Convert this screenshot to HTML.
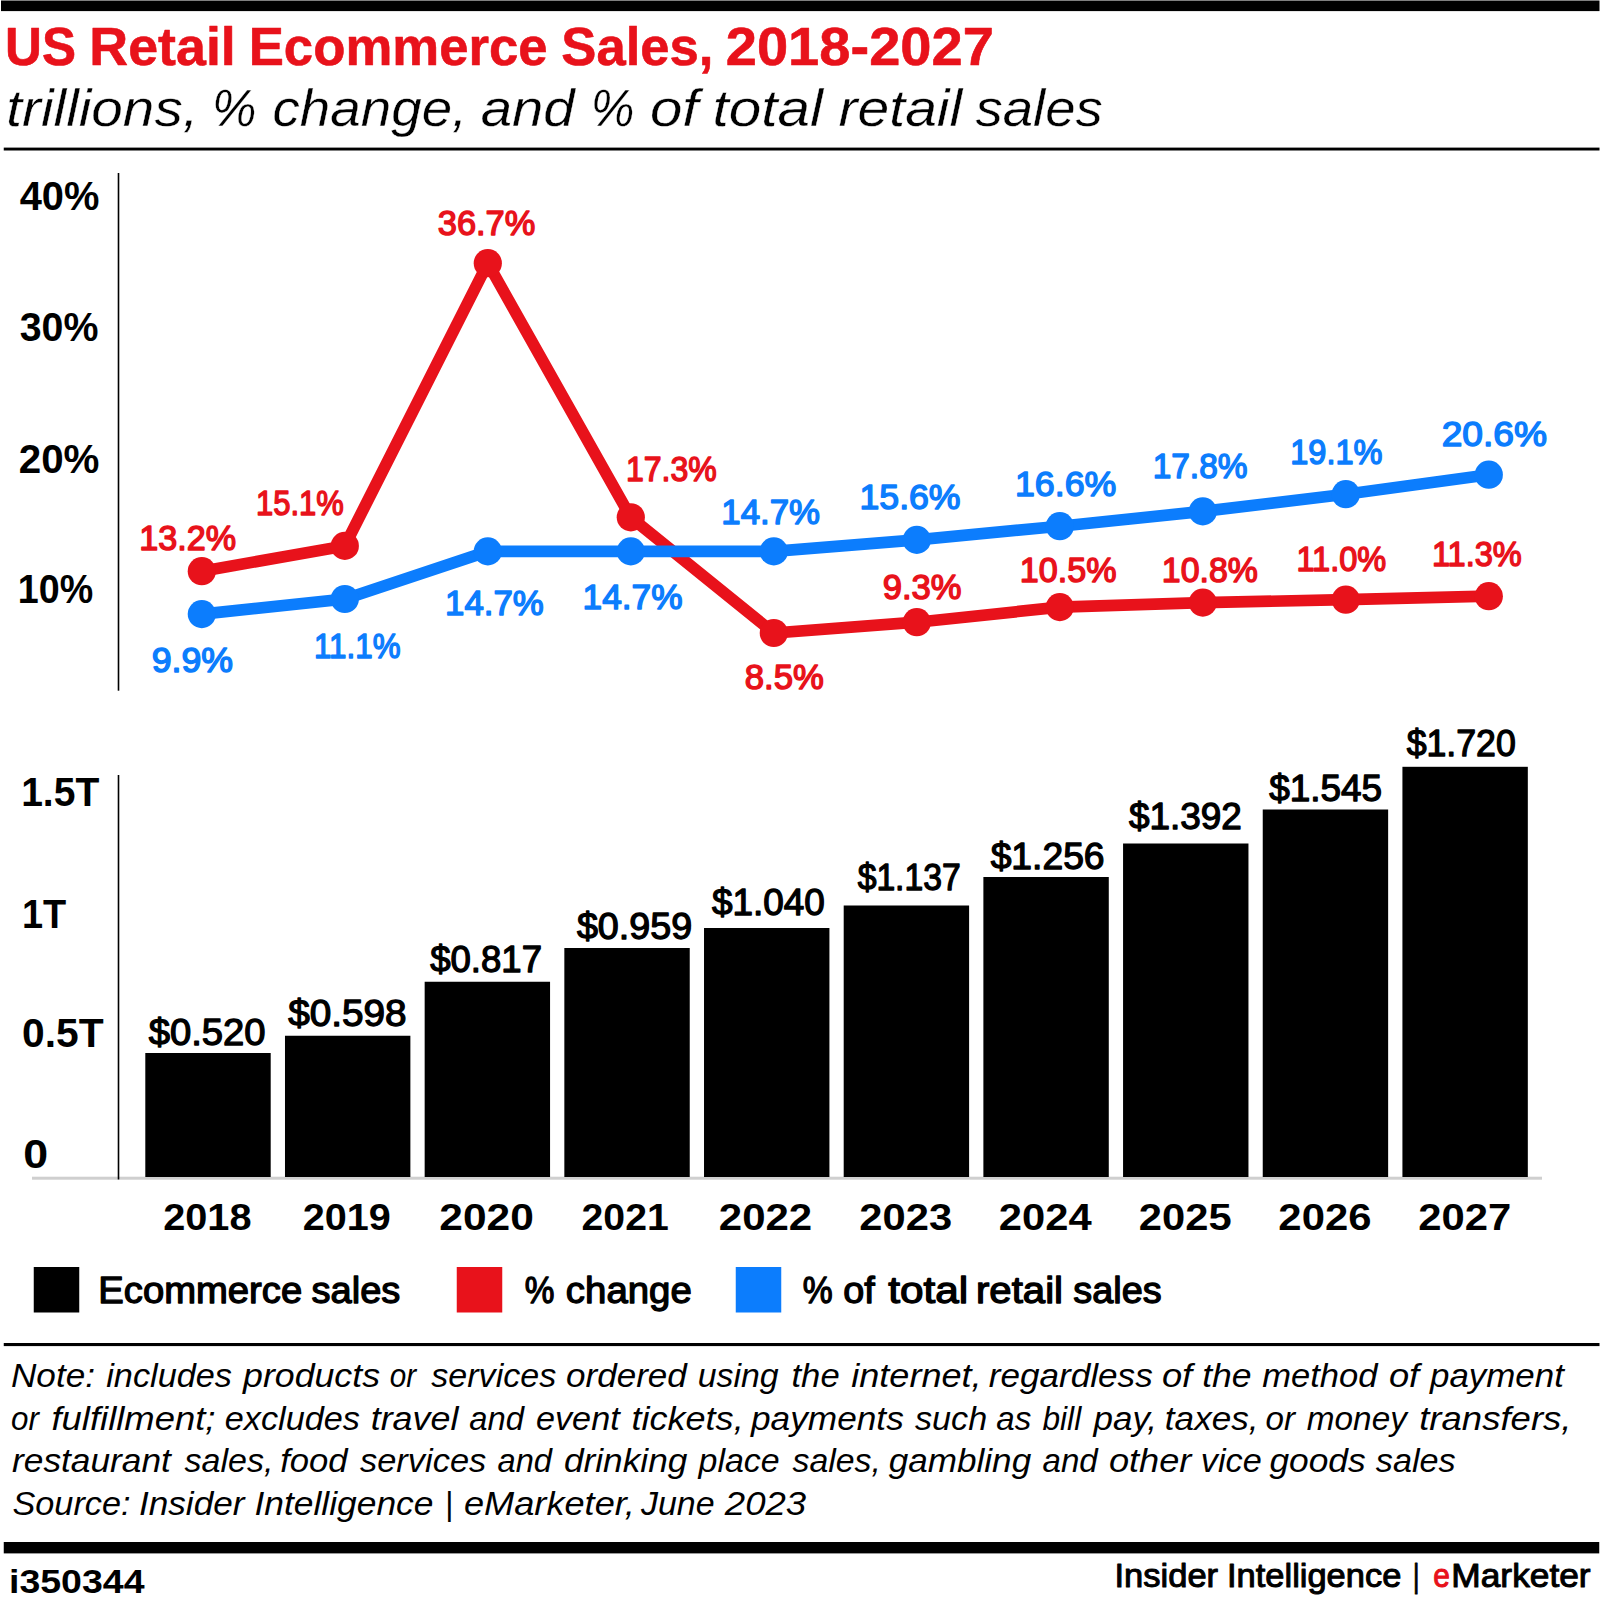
<!DOCTYPE html>
<html lang="en"><head><meta charset="utf-8"><title>US Retail Ecommerce Sales, 2018-2027</title>
<style>
html,body{margin:0;padding:0;background:#fff}
svg{display:block}
text{font-family:"Liberation Sans",sans-serif;white-space:pre}
</style></head><body>
<svg width="1600" height="1604" viewBox="0 0 1600 1604">
<rect width="1600" height="1604" fill="#fff"/>
<rect x="1" y="0.5" width="1598.5" height="10.6" fill="#000"/>
<rect x="3.75" y="147.6" width="1595.75" height="2.9" fill="#000"/>
<rect x="3.75" y="1343" width="1595.75" height="3.1" fill="#000"/>
<rect x="3.75" y="1542" width="1595.5" height="11.4" fill="#000"/>
<rect x="117.7" y="173" width="1.6" height="517.7" fill="#000"/>
<polyline points="201.8,571.2 344.8,545.9 487.8,263.2 630.8,517.3 773.8,633.0 916.8,622.2 1059.8,607.1 1202.8,602.6 1345.8,599.7 1488.8,596.2" fill="none" stroke="#e8121b" stroke-width="11.7" stroke-linejoin="miter" stroke-linecap="round"/>
<circle cx="201.8" cy="571.2" r="14.1" fill="#e8121b"/>
<circle cx="344.8" cy="545.9" r="14.1" fill="#e8121b"/>
<circle cx="487.8" cy="263.2" r="14.1" fill="#e8121b"/>
<circle cx="630.8" cy="517.3" r="14.1" fill="#e8121b"/>
<circle cx="773.8" cy="633.0" r="14.1" fill="#e8121b"/>
<circle cx="916.8" cy="622.2" r="14.1" fill="#e8121b"/>
<circle cx="1059.8" cy="607.1" r="14.1" fill="#e8121b"/>
<circle cx="1202.8" cy="602.6" r="14.1" fill="#e8121b"/>
<circle cx="1345.8" cy="599.7" r="14.1" fill="#e8121b"/>
<circle cx="1488.8" cy="596.2" r="14.1" fill="#e8121b"/>
<polyline points="201.8,614.1 344.8,599.0 487.8,551.4 630.8,551.4 773.8,551.4 916.8,539.9 1059.8,526.2 1202.8,511.4 1345.8,494.2 1488.8,474.7" fill="none" stroke="#0c7dfd" stroke-width="11.7" stroke-linejoin="miter" stroke-linecap="round"/>
<circle cx="201.8" cy="614.1" r="14.1" fill="#0c7dfd"/>
<circle cx="344.8" cy="599.0" r="14.1" fill="#0c7dfd"/>
<circle cx="487.8" cy="551.4" r="14.1" fill="#0c7dfd"/>
<circle cx="630.8" cy="551.4" r="14.1" fill="#0c7dfd"/>
<circle cx="773.8" cy="551.4" r="14.1" fill="#0c7dfd"/>
<circle cx="916.8" cy="539.9" r="14.1" fill="#0c7dfd"/>
<circle cx="1059.8" cy="526.2" r="14.1" fill="#0c7dfd"/>
<circle cx="1202.8" cy="511.4" r="14.1" fill="#0c7dfd"/>
<circle cx="1345.8" cy="494.2" r="14.1" fill="#0c7dfd"/>
<circle cx="1488.8" cy="474.7" r="14.1" fill="#0c7dfd"/>
<rect x="32" y="1176.7" width="1510" height="3" fill="#cfcfcf"/>
<rect x="117.7" y="775" width="1.6" height="404.5" fill="#000"/>
<rect x="145.3" y="1053" width="125.4" height="124" fill="#000"/>
<rect x="284.98" y="1035.75" width="125.4" height="141.25" fill="#000"/>
<rect x="424.66" y="981.75" width="125.4" height="195.25" fill="#000"/>
<rect x="564.34" y="948" width="125.4" height="229" fill="#000"/>
<rect x="704.02" y="928" width="125.4" height="249" fill="#000"/>
<rect x="843.7" y="905.5" width="125.4" height="271.5" fill="#000"/>
<rect x="983.38" y="877" width="125.4" height="300" fill="#000"/>
<rect x="1123.06" y="843.5" width="125.4" height="333.5" fill="#000"/>
<rect x="1262.74" y="809.5" width="125.4" height="367.5" fill="#000"/>
<rect x="1402.42" y="766.8" width="125.4" height="410.20000000000005" fill="#000"/>
<rect x="33.75" y="1267" width="45.5" height="45.5" fill="#000"/>
<rect x="456.75" y="1267" width="45.5" height="45.5" fill="#e8121b"/>
<rect x="735.75" y="1267" width="45.5" height="45.5" fill="#0c7dfd"/>
<text y="65" font-size="54.5" font-weight="bold"><tspan x="4.99" fill="#e8121b" stroke="#e8121b" stroke-width="0.6" stroke-linejoin="round" textLength="70.98" lengthAdjust="spacingAndGlyphs">US</tspan> <tspan x="89.34" fill="#e8121b" stroke="#e8121b" stroke-width="0.6" stroke-linejoin="round" textLength="146.46" lengthAdjust="spacingAndGlyphs">Retail</tspan> <tspan x="248.65" fill="#e8121b" stroke="#e8121b" stroke-width="0.6" stroke-linejoin="round" textLength="299.07" lengthAdjust="spacingAndGlyphs">Ecommerce</tspan> <tspan x="561.33" fill="#e8121b" stroke="#e8121b" stroke-width="0.6" stroke-linejoin="round" textLength="152.15" lengthAdjust="spacingAndGlyphs">Sales,</tspan> <tspan x="725.77" fill="#e8121b" stroke="#e8121b" stroke-width="0.6" stroke-linejoin="round" textLength="268.11" lengthAdjust="spacingAndGlyphs">2018-2027</tspan></text>
<text y="125.8" font-size="51.5" font-style="italic"><tspan x="6.37" fill="#000" stroke="#fff" stroke-width="0.35" stroke-linejoin="round" textLength="192.14" lengthAdjust="spacingAndGlyphs">trillions,</tspan> <tspan x="211.92" fill="#000" stroke="#fff" stroke-width="0.35" stroke-linejoin="round" textLength="44.40" lengthAdjust="spacingAndGlyphs">%</tspan> <tspan x="272.51" fill="#000" stroke="#fff" stroke-width="0.35" stroke-linejoin="round" textLength="194.81" lengthAdjust="spacingAndGlyphs">change,</tspan> <tspan x="480.73" fill="#000" stroke="#fff" stroke-width="0.35" stroke-linejoin="round" textLength="93.96" lengthAdjust="spacingAndGlyphs">and</tspan> <tspan x="590.71" fill="#000" stroke="#fff" stroke-width="0.35" stroke-linejoin="round" textLength="43.67" lengthAdjust="spacingAndGlyphs">%</tspan> <tspan x="649.95" fill="#000" stroke="#fff" stroke-width="0.35" stroke-linejoin="round" textLength="48.44" lengthAdjust="spacingAndGlyphs">of</tspan> <tspan x="712.56" fill="#000" stroke="#fff" stroke-width="0.35" stroke-linejoin="round" textLength="110.35" lengthAdjust="spacingAndGlyphs">total</tspan> <tspan x="838.58" fill="#000" stroke="#fff" stroke-width="0.35" stroke-linejoin="round" textLength="123.62" lengthAdjust="spacingAndGlyphs">retail</tspan> <tspan x="975.62" fill="#000" stroke="#fff" stroke-width="0.35" stroke-linejoin="round" textLength="127.14" lengthAdjust="spacingAndGlyphs">sales</tspan></text>
<text x="19.70" y="210" font-size="40.7" font-weight="bold" fill="#000" textLength="79.72" lengthAdjust="spacingAndGlyphs">40%</text>
<text x="19.70" y="341.2" font-size="40.7" font-weight="bold" fill="#000" textLength="78.72" lengthAdjust="spacingAndGlyphs">30%</text>
<text x="18.71" y="472.8" font-size="40.7" font-weight="bold" fill="#000" textLength="80.72" lengthAdjust="spacingAndGlyphs">20%</text>
<text x="17.85" y="603" font-size="40.7" font-weight="bold" fill="#000" textLength="75.31" lengthAdjust="spacingAndGlyphs">10%</text>
<text x="139.14" y="550.4" font-size="35.8" fill="#e8121b" stroke="#e8121b" stroke-width="1.5" stroke-linejoin="round" textLength="96.90" lengthAdjust="spacingAndGlyphs">13.2%</text>
<text x="256.02" y="514.5" font-size="35.8" fill="#e8121b" stroke="#e8121b" stroke-width="1.5" stroke-linejoin="round" textLength="87.69" lengthAdjust="spacingAndGlyphs">15.1%</text>
<text x="437.79" y="234.7" font-size="35.8" fill="#e8121b" stroke="#e8121b" stroke-width="1.5" stroke-linejoin="round" textLength="97.56" lengthAdjust="spacingAndGlyphs">36.7%</text>
<text x="625.96" y="481.25" font-size="35.8" fill="#e8121b" stroke="#e8121b" stroke-width="1.5" stroke-linejoin="round" textLength="90.78" lengthAdjust="spacingAndGlyphs">17.3%</text>
<text x="744.78" y="689.25" font-size="35.8" fill="#e8121b" stroke="#e8121b" stroke-width="1.5" stroke-linejoin="round" textLength="79.02" lengthAdjust="spacingAndGlyphs">8.5%</text>
<text x="882.78" y="599" font-size="35.8" fill="#e8121b" stroke="#e8121b" stroke-width="1.5" stroke-linejoin="round" textLength="78.77" lengthAdjust="spacingAndGlyphs">9.3%</text>
<text x="1019.84" y="581.75" font-size="35.8" fill="#e8121b" stroke="#e8121b" stroke-width="1.5" stroke-linejoin="round" textLength="96.70" lengthAdjust="spacingAndGlyphs">10.5%</text>
<text x="1161.86" y="581.75" font-size="35.8" fill="#e8121b" stroke="#e8121b" stroke-width="1.5" stroke-linejoin="round" textLength="95.92" lengthAdjust="spacingAndGlyphs">10.8%</text>
<text x="1296.43" y="571.25" font-size="35.8" fill="#e8121b" stroke="#e8121b" stroke-width="1.5" stroke-linejoin="round" textLength="89.82" lengthAdjust="spacingAndGlyphs">11.0%</text>
<text x="1431.93" y="566.25" font-size="35.8" fill="#e8121b" stroke="#e8121b" stroke-width="1.5" stroke-linejoin="round" textLength="89.82" lengthAdjust="spacingAndGlyphs">11.3%</text>
<text x="151.75" y="672.2" font-size="35.8" fill="#0c7dfd" stroke="#0c7dfd" stroke-width="1.5" stroke-linejoin="round" textLength="81.32" lengthAdjust="spacingAndGlyphs">9.9%</text>
<text x="314.00" y="657.5" font-size="35.8" fill="#0c7dfd" stroke="#0c7dfd" stroke-width="1.5" stroke-linejoin="round" textLength="86.48" lengthAdjust="spacingAndGlyphs">11.1%</text>
<text x="445.05" y="615" font-size="35.8" fill="#0c7dfd" stroke="#0c7dfd" stroke-width="1.5" stroke-linejoin="round" textLength="98.75" lengthAdjust="spacingAndGlyphs">14.7%</text>
<text x="582.53" y="608.75" font-size="35.8" fill="#0c7dfd" stroke="#0c7dfd" stroke-width="1.5" stroke-linejoin="round" textLength="100.04" lengthAdjust="spacingAndGlyphs">14.7%</text>
<text x="721.30" y="523.75" font-size="35.8" fill="#0c7dfd" stroke="#0c7dfd" stroke-width="1.5" stroke-linejoin="round" textLength="98.75" lengthAdjust="spacingAndGlyphs">14.7%</text>
<text x="859.51" y="508.5" font-size="35.8" fill="#0c7dfd" stroke="#0c7dfd" stroke-width="1.5" stroke-linejoin="round" textLength="101.07" lengthAdjust="spacingAndGlyphs">15.6%</text>
<text x="1015.00" y="496.25" font-size="35.8" fill="#0c7dfd" stroke="#0c7dfd" stroke-width="1.5" stroke-linejoin="round" textLength="101.32" lengthAdjust="spacingAndGlyphs">16.6%</text>
<text x="1152.63" y="477.5" font-size="35.8" fill="#0c7dfd" stroke="#0c7dfd" stroke-width="1.5" stroke-linejoin="round" textLength="94.90" lengthAdjust="spacingAndGlyphs">17.8%</text>
<text x="1290.18" y="463.75" font-size="35.8" fill="#0c7dfd" stroke="#0c7dfd" stroke-width="1.5" stroke-linejoin="round" textLength="92.32" lengthAdjust="spacingAndGlyphs">19.1%</text>
<text x="1441.71" y="445.75" font-size="35.8" fill="#0c7dfd" stroke="#0c7dfd" stroke-width="1.5" stroke-linejoin="round" textLength="105.40" lengthAdjust="spacingAndGlyphs">20.6%</text>
<text x="148.65" y="1045" font-size="36.8" fill="#000" stroke="#000" stroke-width="1.3" stroke-linejoin="round" textLength="116.93" lengthAdjust="spacingAndGlyphs">$0.520</text>
<text x="288.15" y="1026.25" font-size="36.8" fill="#000" stroke="#000" stroke-width="1.3" stroke-linejoin="round" textLength="118.49" lengthAdjust="spacingAndGlyphs">$0.598</text>
<text x="430.15" y="972" font-size="36.8" fill="#000" stroke="#000" stroke-width="1.3" stroke-linejoin="round" textLength="111.91" lengthAdjust="spacingAndGlyphs">$0.817</text>
<text x="576.90" y="938.75" font-size="36.8" fill="#000" stroke="#000" stroke-width="1.3" stroke-linejoin="round" textLength="115.20" lengthAdjust="spacingAndGlyphs">$0.959</text>
<text x="711.90" y="915" font-size="36.8" fill="#000" stroke="#000" stroke-width="1.3" stroke-linejoin="round" textLength="112.92" lengthAdjust="spacingAndGlyphs">$1.040</text>
<text x="857.65" y="890" font-size="36.8" fill="#000" stroke="#000" stroke-width="1.3" stroke-linejoin="round" textLength="103.04" lengthAdjust="spacingAndGlyphs">$1.137</text>
<text x="990.65" y="869.25" font-size="36.8" fill="#000" stroke="#000" stroke-width="1.3" stroke-linejoin="round" textLength="113.93" lengthAdjust="spacingAndGlyphs">$1.256</text>
<text x="1128.90" y="829.25" font-size="36.8" fill="#000" stroke="#000" stroke-width="1.3" stroke-linejoin="round" textLength="112.92" lengthAdjust="spacingAndGlyphs">$1.392</text>
<text x="1269.15" y="801" font-size="36.8" fill="#000" stroke="#000" stroke-width="1.3" stroke-linejoin="round" textLength="112.92" lengthAdjust="spacingAndGlyphs">$1.545</text>
<text x="1406.65" y="756.4" font-size="36.8" fill="#000" stroke="#000" stroke-width="1.3" stroke-linejoin="round" textLength="109.15" lengthAdjust="spacingAndGlyphs">$1.720</text>
<text x="163.19" y="1230" font-size="37.3" font-weight="bold" fill="#000" textLength="88.36" lengthAdjust="spacingAndGlyphs">2018</text>
<text x="302.69" y="1230" font-size="37.3" font-weight="bold" fill="#000" textLength="88.10" lengthAdjust="spacingAndGlyphs">2019</text>
<text x="439.36" y="1230" font-size="37.3" font-weight="bold" fill="#000" textLength="94.48" lengthAdjust="spacingAndGlyphs">2020</text>
<text x="581.55" y="1230" font-size="37.3" font-weight="bold" fill="#000" textLength="87.23" lengthAdjust="spacingAndGlyphs">2021</text>
<text x="718.87" y="1230" font-size="37.3" font-weight="bold" fill="#000" textLength="93.36" lengthAdjust="spacingAndGlyphs">2022</text>
<text x="859.38" y="1230" font-size="37.3" font-weight="bold" fill="#000" textLength="92.70" lengthAdjust="spacingAndGlyphs">2023</text>
<text x="998.88" y="1230" font-size="37.3" font-weight="bold" fill="#000" textLength="92.83" lengthAdjust="spacingAndGlyphs">2024</text>
<text x="1138.88" y="1230" font-size="37.3" font-weight="bold" fill="#000" textLength="92.70" lengthAdjust="spacingAndGlyphs">2025</text>
<text x="1278.38" y="1230" font-size="37.3" font-weight="bold" fill="#000" textLength="93.05" lengthAdjust="spacingAndGlyphs">2026</text>
<text x="1418.28" y="1230" font-size="37.3" font-weight="bold" fill="#000" textLength="93.05" lengthAdjust="spacingAndGlyphs">2027</text>
<text x="21.18" y="806.25" font-size="40.7" font-weight="bold" fill="#000" textLength="78.08" lengthAdjust="spacingAndGlyphs">1.5T</text>
<text x="21.89" y="927.5" font-size="40.7" font-weight="bold" fill="#000" textLength="44.23" lengthAdjust="spacingAndGlyphs">1T</text>
<text x="22.00" y="1047" font-size="40.7" font-weight="bold" fill="#000" textLength="81.61" lengthAdjust="spacingAndGlyphs">0.5T</text>
<text x="23.15" y="1167.5" font-size="40.7" font-weight="bold" fill="#000" textLength="24.89" lengthAdjust="spacingAndGlyphs">0</text>
<text y="1303" font-size="37"><tspan x="98.30" fill="#000" stroke="#000" stroke-width="1.3" stroke-linejoin="round" textLength="203.93" lengthAdjust="spacingAndGlyphs">Ecommerce</tspan> <tspan x="311.62" fill="#000" stroke="#000" stroke-width="1.3" stroke-linejoin="round" textLength="88.74" lengthAdjust="spacingAndGlyphs">sales</tspan></text>
<text y="1303" font-size="37"><tspan x="524.75" fill="#000" stroke="#000" stroke-width="1.3" stroke-linejoin="round" textLength="29.66" lengthAdjust="spacingAndGlyphs">%</tspan> <tspan x="565.86" fill="#000" stroke="#000" stroke-width="1.3" stroke-linejoin="round" textLength="125.87" lengthAdjust="spacingAndGlyphs">change</tspan></text>
<text y="1303" font-size="37"><tspan x="802.74" fill="#000" stroke="#000" stroke-width="1.3" stroke-linejoin="round" textLength="29.93" lengthAdjust="spacingAndGlyphs">%</tspan> <tspan x="843.38" fill="#000" stroke="#000" stroke-width="1.3" stroke-linejoin="round" textLength="31.49" lengthAdjust="spacingAndGlyphs">of</tspan> <tspan x="888.15" fill="#000" stroke="#000" stroke-width="1.3" stroke-linejoin="round" textLength="79.99" lengthAdjust="spacingAndGlyphs">total</tspan> <tspan x="975.98" fill="#000" stroke="#000" stroke-width="1.3" stroke-linejoin="round" textLength="87.03" lengthAdjust="spacingAndGlyphs">retail</tspan> <tspan x="1073.38" fill="#000" stroke="#000" stroke-width="1.3" stroke-linejoin="round" textLength="88.23" lengthAdjust="spacingAndGlyphs">sales</tspan></text>
<text y="1387" font-size="34" font-style="italic"><tspan x="10.97" fill="#000" textLength="83.99" lengthAdjust="spacingAndGlyphs">Note:</tspan> <tspan x="106.25" fill="#000" textLength="125.75" lengthAdjust="spacingAndGlyphs">includes</tspan> <tspan x="243.05" fill="#000" textLength="136.95" lengthAdjust="spacingAndGlyphs">products</tspan> <tspan x="389.63" fill="#000" textLength="26.41" lengthAdjust="spacingAndGlyphs">or</tspan> <tspan x="431.25" fill="#000" textLength="125.00" lengthAdjust="spacingAndGlyphs">services</tspan> <tspan x="565.97" fill="#000" textLength="120.91" lengthAdjust="spacingAndGlyphs">ordered</tspan> <tspan x="697.75" fill="#000" textLength="80.90" lengthAdjust="spacingAndGlyphs">using</tspan> <tspan x="791.48" fill="#000" textLength="48.20" lengthAdjust="spacingAndGlyphs">the</tspan> <tspan x="851.25" fill="#000" textLength="130.41" lengthAdjust="spacingAndGlyphs">internet,</tspan> <tspan x="988.75" fill="#000" textLength="164.00" lengthAdjust="spacingAndGlyphs">regardless</tspan> <tspan x="1161.93" fill="#000" textLength="30.27" lengthAdjust="spacingAndGlyphs">of</tspan> <tspan x="1202.20" fill="#000" textLength="49.45" lengthAdjust="spacingAndGlyphs">the</tspan> <tspan x="1262.20" fill="#000" textLength="115.29" lengthAdjust="spacingAndGlyphs">method</tspan> <tspan x="1388.93" fill="#000" textLength="30.27" lengthAdjust="spacingAndGlyphs">of</tspan> <tspan x="1430.03" fill="#000" textLength="133.88" lengthAdjust="spacingAndGlyphs">payment</tspan></text>
<text y="1429.5" font-size="34" font-style="italic"><tspan x="11.08" fill="#000" textLength="27.88" lengthAdjust="spacingAndGlyphs">or</tspan> <tspan x="51.43" fill="#000" textLength="164.05" lengthAdjust="spacingAndGlyphs">fulfillment;</tspan> <tspan x="224.74" fill="#000" textLength="135.26" lengthAdjust="spacingAndGlyphs">excludes</tspan> <tspan x="370.69" fill="#000" textLength="87.78" lengthAdjust="spacingAndGlyphs">travel</tspan> <tspan x="469.25" fill="#000" textLength="54.70" lengthAdjust="spacingAndGlyphs">and</tspan> <tspan x="535.99" fill="#000" textLength="83.69" lengthAdjust="spacingAndGlyphs">event</tspan> <tspan x="631.44" fill="#000" textLength="112.22" lengthAdjust="spacingAndGlyphs">tickets,</tspan> <tspan x="751.04" fill="#000" textLength="152.71" lengthAdjust="spacingAndGlyphs">payments</tspan> <tspan x="915.00" fill="#000" textLength="72.16" lengthAdjust="spacingAndGlyphs">such</tspan> <tspan x="996.25" fill="#000" textLength="35.00" lengthAdjust="spacingAndGlyphs">as</tspan> <tspan x="1042.50" fill="#000" textLength="38.66" lengthAdjust="spacingAndGlyphs">bill</tspan> <tspan x="1093.53" fill="#000" textLength="63.52" lengthAdjust="spacingAndGlyphs">pay,</tspan> <tspan x="1164.87" fill="#000" textLength="93.69" lengthAdjust="spacingAndGlyphs">taxes,</tspan> <tspan x="1265.52" fill="#000" textLength="29.54" lengthAdjust="spacingAndGlyphs">or</tspan> <tspan x="1306.80" fill="#000" textLength="100.04" lengthAdjust="spacingAndGlyphs">money</tspan> <tspan x="1419.23" fill="#000" textLength="152.28" lengthAdjust="spacingAndGlyphs">transfers,</tspan></text>
<text y="1472" font-size="34" font-style="italic"><tspan x="12.00" fill="#000" textLength="158.89" lengthAdjust="spacingAndGlyphs">restaurant</tspan> <tspan x="184.50" fill="#000" textLength="88.95" lengthAdjust="spacingAndGlyphs">sales,</tspan> <tspan x="280.23" fill="#000" textLength="67.41" lengthAdjust="spacingAndGlyphs">food</tspan> <tspan x="360.00" fill="#000" textLength="126.25" lengthAdjust="spacingAndGlyphs">services</tspan> <tspan x="497.50" fill="#000" textLength="54.45" lengthAdjust="spacingAndGlyphs">and</tspan> <tspan x="563.96" fill="#000" textLength="123.44" lengthAdjust="spacingAndGlyphs">drinking</tspan> <tspan x="698.50" fill="#000" textLength="81.16" lengthAdjust="spacingAndGlyphs">place</tspan> <tspan x="792.50" fill="#000" textLength="88.43" lengthAdjust="spacingAndGlyphs">sales,</tspan> <tspan x="888.75" fill="#000" textLength="142.41" lengthAdjust="spacingAndGlyphs">gambling</tspan> <tspan x="1042.50" fill="#000" textLength="55.19" lengthAdjust="spacingAndGlyphs">and</tspan> <tspan x="1108.94" fill="#000" textLength="82.48" lengthAdjust="spacingAndGlyphs">other</tspan> <tspan x="1200.79" fill="#000" textLength="60.92" lengthAdjust="spacingAndGlyphs">vice</tspan> <tspan x="1269.40" fill="#000" textLength="96.30" lengthAdjust="spacingAndGlyphs">goods</tspan> <tspan x="1375.80" fill="#000" textLength="79.90" lengthAdjust="spacingAndGlyphs">sales</tspan></text>
<text y="1514.5" font-size="34" font-style="italic"><tspan x="12.50" fill="#000" textLength="117.95" lengthAdjust="spacingAndGlyphs">Source:</tspan> <tspan x="138.97" fill="#000" textLength="105.55" lengthAdjust="spacingAndGlyphs">Insider</tspan> <tspan x="254.46" fill="#000" textLength="178.99" lengthAdjust="spacingAndGlyphs">Intelligence</tspan> <tspan x="444.69" fill="#000" textLength="8.28" lengthAdjust="spacingAndGlyphs">|</tspan> <tspan x="463.94" fill="#000" textLength="170.98" lengthAdjust="spacingAndGlyphs">eMarketer,</tspan> <tspan x="641.00" fill="#000" textLength="73.66" lengthAdjust="spacingAndGlyphs">June</tspan> <tspan x="724.83" fill="#000" textLength="81.33" lengthAdjust="spacingAndGlyphs">2023</tspan></text>
<text x="9.00" y="1592.5" font-size="33.4" font-weight="bold" fill="#000" textLength="135.51" lengthAdjust="spacingAndGlyphs">i350344</text>
<text y="1586.9" font-size="32.7"><tspan x="1114.53" fill="#000" stroke="#000" stroke-width="1.0" stroke-linejoin="round" textLength="103.60" lengthAdjust="spacingAndGlyphs">Insider</tspan> <tspan x="1227.04" fill="#000" stroke="#000" stroke-width="1.0" stroke-linejoin="round" textLength="174.31" lengthAdjust="spacingAndGlyphs">Intelligence</tspan> <tspan x="1413.00" fill="#000" stroke="#000" stroke-width="1.0" stroke-linejoin="round" textLength="6.37" lengthAdjust="spacingAndGlyphs">|</tspan> <tspan x="1433.33" fill="#e8121b" stroke="#e8121b" stroke-width="1.0" stroke-linejoin="round" textLength="16.65" lengthAdjust="spacingAndGlyphs">e</tspan><tspan x="1451.34" fill="#000" stroke="#000" stroke-width="1.0" stroke-linejoin="round" textLength="139.29" lengthAdjust="spacingAndGlyphs">Marketer</tspan></text>
</svg>
</body></html>
